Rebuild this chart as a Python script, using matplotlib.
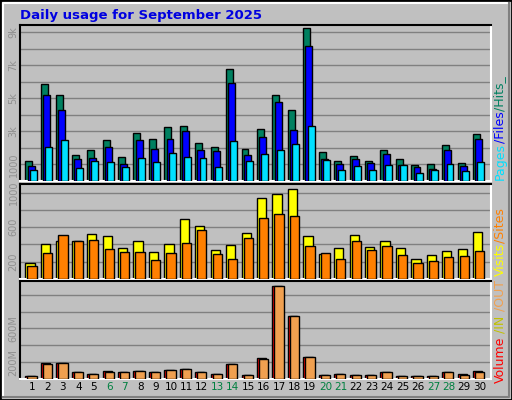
import matplotlib
matplotlib.use("Agg")
import matplotlib.pyplot as plt
import numpy as np

days = list(range(1, 31))
weekends = [6, 7, 13, 14, 20, 21, 27, 28]
hits = [1190,5860,5190,1580,1860,2460,1430,2890,2530,3250,3310,2280,2040,6770,1920,3130,5190,4280,9250,1740,1190,1490,1190,1860,1310,950,1010,2160,1070,2830]
files = [890,5190,4280,1310,1370,2040,1010,2460,1920,2530,3010,1860,1800,5920,1560,2650,4770,3070,8160,1310,1010,1310,1070,1620,950,830,710,1860,890,2530]
pages = [650,2040,2460,770,1190,1130,830,1370,1130,1680,1430,1370,830,2400,1190,1620,1860,2220,3310,1250,650,890,650,950,950,460,650,1010,590,1130]
visits = [180,404,440,440,522,498,357,440,310,404,698,616,333,392,533,933,980,1040,498,286,357,510,369,440,357,227,275,322,345,545]
sites = [145,298,510,440,451,345,310,310,216,298,416,569,286,227,475,710,757,733,380,298,227,440,333,380,275,180,204,251,263,322]
volume = [41,192,188,78,65,90,78,90,78,102,114,78,65,176,53,249,1106,751,261,53,65,53,53,78,41,41,41,78,65,90]
vol_out = [41,176,188,78,65,78,78,90,78,102,114,78,65,176,53,237,1106,751,261,53,65,53,53,78,41,41,41,78,53,78]

W, H = 512, 400
fig = plt.figure(figsize=(W/100, H/100), dpi=100)
fig.patch.set_facecolor("#C0C0C0")
# frame
fig.add_artist(plt.Rectangle((0, 0), 1, 1, transform=fig.transFigure, fill=False, ec="black", lw=2))
fig.add_artist(plt.Line2D([3/W, 3/W, 1-3/W], [3/H, 1-3/H, 1-3/H], transform=fig.transFigure, color="white", lw=1.5))
fig.add_artist(plt.Line2D([3/W, 1-3/W, 1-3/W], [3/H, 3/H, 1-3/H], transform=fig.transFigure, color="#808080", lw=1.5))

def mkax(y0, y1):
    x0, x1 = 20, 491
    ax = fig.add_axes([x0/W, 1-y1/H, (x1-x0)/W, (y1-y0)/H])
    ax.set_facecolor("#C0C0C0")
    ax.set_xlim(0.22, 30.73)
    for s in ["left", "top"]:
        ax.spines[s].set_color("black")
    for s in ["right", "bottom"]:
        ax.spines[s].set_color("white")
    for s in ax.spines.values():
        s.set_linewidth(1.5)
    ax.set_xticks([])
    ax.tick_params(axis="y", length=0, labelsize=7, labelcolor="#909090", pad=1)
    for t in ax.get_yticklabels():
        pass
    return ax

d = np.array(days)
ax1 = mkax(25, 181)
ax1.set_ylim(0, 9450)
for g in range(1000, 9001, 1000):
    ax1.axhline(g, color="#808080", lw=1, zorder=0)
ax1.set_yticks([1000, 3000, 5000, 7000, 9000], ["1000", "3k", "5k", "7k", "9k"])
ax1.bar(d-0.43, hits, 0.45, align="edge", color="#008060", ec="black", lw=1, zorder=2)
ax1.bar(d-0.29, files, 0.45, align="edge", color="#0000FF", ec="black", lw=1, zorder=3)
ax1.bar(d-0.15, pages, 0.45, align="edge", color="#00E0FF", ec="black", lw=1, zorder=4)

ax2 = mkax(184, 279)
ax2.set_ylim(0, 1100)
for g in range(200, 1001, 200):
    ax2.axhline(g, color="#808080", lw=1, zorder=0)
ax2.set_yticks([200, 600, 1000], ["200", "600", "1000"])
ax2.bar(d-0.43, visits, 0.6, align="edge", color="#FFFF00", ec="black", lw=1, zorder=2)
ax2.bar(d-0.3, sites, 0.6, align="edge", color="#FF8000", ec="black", lw=1, zorder=3)

ax3 = mkax(281, 379)
ax3.set_ylim(0, 1163)
for g in range(200, 1001, 200):
    ax3.axhline(g, color="#808080", lw=1, zorder=0)
ax3.set_yticks([200, 600], ["200M", "600M"])
ax3.bar(d-0.43, volume, 0.6, align="edge", color="#FF0000", ec="black", lw=1, zorder=2)
ax3.bar(d-0.3, vol_out, 0.6, align="edge", color="#F0A050", ec="black", lw=1, zorder=3)

for ax in (ax1, ax2, ax3):
    for t in ax.get_yticklabels():
        t.set_rotation(90)
        t.set_va("center")

for day in days:
    ax3.text(day, -0.035, str(day), transform=ax3.get_xaxis_transform(), ha="center", va="top",
             fontsize=7.5, color="#008040" if day in weekends else "black")

fig.text(20/W, 1-15/H, "Daily usage for September 2025", color="#0000E0", fontsize=9.5,
         fontweight="bold", va="center", ha="left")

def vlabel(parts, ybottom, x=500):
    y = ybottom
    r = fig.canvas.get_renderer()
    for txt, col in parts:
        t = fig.text(x/W, 1-y/H, txt, color=col, fontsize=9, rotation=90, ha="center", va="bottom")
        bb = t.get_window_extent(renderer=r)
        y -= bb.height

vlabel([("Pages", "#00E0FF"), ("/Files", "#0000FF"), ("/Hits_", "#008060")], 180)
vlabel([("Visits", "#FFFF00"), ("/Sites", "#FF8000")], 276)
vlabel([("Volume", "#FF0000"), (" /IN", "#C0C000"), (" /OUT", "#F0A050")], 383)

fig.savefig("out.png", dpi=100, facecolor=fig.get_facecolor())
